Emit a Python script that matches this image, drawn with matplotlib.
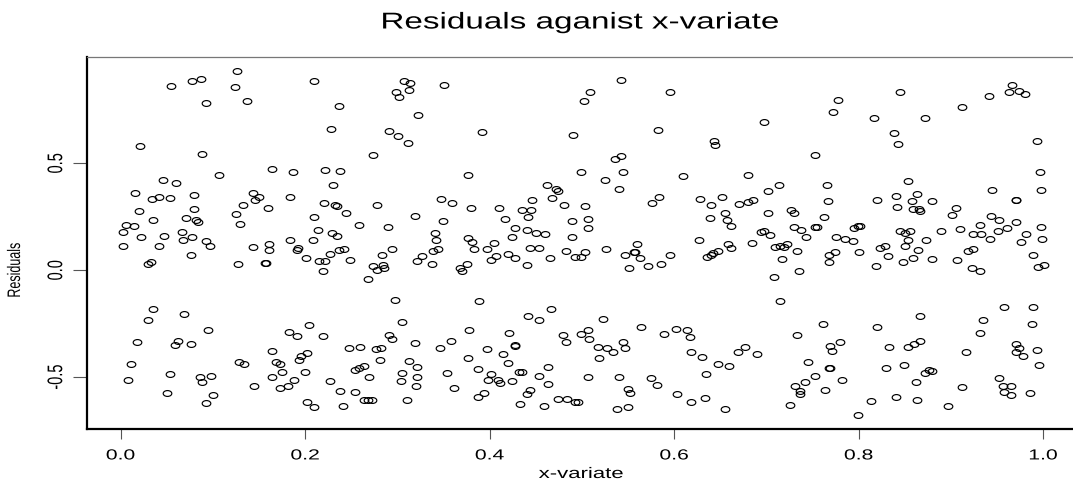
import matplotlib
matplotlib.use("Agg")
import matplotlib.pyplot as plt
from matplotlib.path import Path
from matplotlib.patheffects import AbstractPathEffect
from matplotlib.transforms import Affine2D
import numpy as np

plt.rcParams['font.family'] = ['Liberation Sans', 'DejaVu Sans']

# ---- data: (x-variate, residual), strip by strip ----
x_s1 = [0.055,0.077,0.087,0.093,0.021,0.088,0.046,0.060,0.016,0.034,0.042,0.053,0.080,0.020,0.080,0.035,0.071,0.082,0.084,0.006,0.015,0.003,0.066,0.022,0.047,0.068,0.077,0.003,0.042,0.092,0.097,0.076,0.030,0.033,
        0.035,0.030,0.069,0.095,0.018,0.062,0.059,0.076,0.011,0.008,0.053,0.086,0.088,0.098,0.050,0.100,0.093]
r_s1 = [0.861,0.886,0.896,0.783,0.581,0.545,0.421,0.408,0.361,0.332,0.344,0.338,0.350,0.277,0.287,0.235,0.243,0.235,0.224,0.210,0.206,0.179,0.179,0.154,0.160,0.143,0.153,0.114,0.114,0.137,0.114,0.073,0.028,0.040,
        -0.182,-0.234,-0.204,-0.280,-0.338,-0.332,-0.352,-0.347,-0.441,-0.516,-0.486,-0.498,-0.522,-0.494,-0.573,-0.586,-0.623]

x_s2 = [0.126,0.124,0.137,0.210,0.228,0.107,0.164,0.187,0.221,0.230,0.143,0.150,0.146,0.133,0.160,0.184,0.220,0.232,0.125,0.129,0.210,0.214,0.229,0.143,0.161,0.161,0.184,0.191,0.192,0.209,0.201,0.215,0.221,0.219,0.227,0.127,0.157,0.158,
        0.204,0.183,0.191,0.219,0.164,0.128,0.134,0.168,0.173,0.193,0.195,0.202,0.175,0.200,0.164,0.188,0.145,0.181,0.173,0.227,0.202,0.210]
r_s2 = [0.933,0.857,0.790,0.885,0.659,0.447,0.475,0.461,0.470,0.397,0.360,0.340,0.330,0.304,0.290,0.343,0.316,0.304,0.262,0.217,0.248,0.190,0.174,0.107,0.123,0.093,0.139,0.095,0.104,0.140,0.059,0.044,0.044,-0.005,0.075,0.028,0.034,0.034,
        -0.257,-0.290,-0.308,-0.308,-0.379,-0.430,-0.438,-0.430,-0.441,-0.421,-0.402,-0.389,-0.475,-0.478,-0.500,-0.514,-0.540,-0.540,-0.550,-0.517,-0.618,-0.639]

x_s3 = [0.307,0.314,0.313,0.298,0.302,0.351,0.237,0.322,0.291,0.301,0.311,0.274,0.238,0.234,0.244,0.278,0.347,0.359,0.319,0.258,0.290,0.349,0.341,0.342,0.235,0.237,0.242,0.249,0.283,0.294,0.274,0.278,0.284,0.286,0.268,0.321,0.327,0.337,0.339,0.344,
        0.297,0.305,0.291,0.294,0.319,0.346,0.358,0.248,0.259,0.277,0.282,0.281,0.313,0.321,0.254,0.258,0.264,0.269,0.305,0.304,0.321,0.320,0.354,0.361,0.238,0.254,0.264,0.268,0.273,0.310,0.241]
r_s3 = [0.886,0.874,0.844,0.832,0.808,0.864,0.768,0.724,0.651,0.626,0.593,0.537,0.463,0.301,0.269,0.304,0.335,0.315,0.251,0.210,0.202,0.232,0.176,0.140,0.162,0.093,0.097,0.048,0.073,0.097,0.019,0.000,0.026,0.011,-0.042,0.042,0.067,0.031,0.090,0.097,
        -0.140,-0.241,-0.301,-0.324,-0.340,-0.366,-0.330,-0.366,-0.358,-0.369,-0.364,-0.421,-0.424,-0.452,-0.466,-0.460,-0.447,-0.500,-0.483,-0.517,-0.502,-0.544,-0.483,-0.550,-0.564,-0.572,-0.606,-0.606,-0.606,-0.607,-0.637]

x_s4 = [0.392,0.490,0.376,0.462,0.472,0.474,0.468,0.446,0.481,0.380,0.410,0.435,0.445,0.442,0.417,0.489,0.427,0.441,0.450,0.460,0.424,0.489,0.376,0.381,0.405,0.383,0.397,0.444,0.453,0.483,0.492,0.407,0.402,0.420,0.428,0.440,0.465,0.375,0.368,0.370,
        0.388,0.466,0.442,0.454,0.378,0.421,0.480,0.483,0.427,0.428,0.397,0.414,0.377,0.420,0.387,0.463,0.401,0.432,0.435,0.398,0.409,0.411,0.424,0.453,0.463,0.444,0.440,0.394,0.387,0.433,0.459,0.474,0.484,0.492]
r_s4 = [0.645,0.634,0.447,0.397,0.380,0.371,0.338,0.330,0.304,0.293,0.293,0.280,0.280,0.249,0.241,0.229,0.198,0.188,0.173,0.167,0.156,0.156,0.151,0.132,0.125,0.097,0.101,0.104,0.104,0.089,0.062,0.067,0.047,0.076,0.055,0.026,0.059,0.028,0.011,-0.006,
        -0.145,-0.182,-0.215,-0.232,-0.280,-0.296,-0.301,-0.335,-0.350,-0.354,-0.369,-0.393,-0.410,-0.436,-0.463,-0.455,-0.488,-0.477,-0.478,-0.514,-0.514,-0.526,-0.519,-0.497,-0.534,-0.559,-0.581,-0.576,-0.592,-0.628,-0.634,-0.604,-0.603,-0.615]

x_s5 = [0.542,0.509,0.502,0.595,0.583,0.542,0.536,0.545,0.499,0.525,0.540,0.610,0.584,0.576,0.503,0.507,0.507,0.503,0.499,0.526,0.560,0.557,0.558,0.547,0.563,0.551,0.572,0.586,0.595,
        0.523,0.564,0.602,0.614,0.617,0.589,0.499,0.507,0.508,0.517,0.527,0.534,0.545,0.547,0.519,0.618,0.507,0.540,0.575,0.581,0.550,0.552,0.603,0.618,0.496,0.538,0.550]
r_s5 = [0.888,0.833,0.790,0.833,0.656,0.534,0.519,0.461,0.458,0.421,0.379,0.442,0.344,0.313,0.299,0.238,0.195,0.083,0.062,0.101,0.123,0.086,0.083,0.070,0.055,0.008,0.019,0.031,0.070,
        -0.229,-0.268,-0.277,-0.280,-0.315,-0.299,-0.299,-0.280,-0.321,-0.358,-0.366,-0.383,-0.335,-0.366,-0.410,-0.383,-0.502,-0.502,-0.503,-0.537,-0.558,-0.576,-0.578,-0.617,-0.617,-0.650,-0.640]

x_s6 = [0.697,0.643,0.644,0.753,0.680,0.714,0.702,0.628,0.640,0.652,0.670,0.680,0.685,0.727,0.730,0.702,0.639,0.655,0.657,0.662,0.730,0.738,0.743,0.753,0.694,0.697,0.704,0.627,0.658,0.662,0.684,0.636,0.640,0.642,0.648,0.709,0.715,0.719,0.722,0.733,0.717,0.735,0.708,0.715,
        0.733,0.630,0.669,0.677,0.690,0.648,0.659,0.635,0.745,0.753,0.742,0.731,0.736,0.736,0.726,0.633,0.655]
r_s6 = [0.692,0.603,0.584,0.540,0.444,0.397,0.369,0.335,0.307,0.340,0.308,0.319,0.330,0.283,0.269,0.268,0.246,0.265,0.235,0.207,0.201,0.187,0.156,0.202,0.179,0.184,0.165,0.139,0.123,0.103,0.129,0.061,0.073,0.081,0.090,0.106,0.114,0.109,0.123,0.090,0.051,-0.005,-0.031,-0.145,
        -0.304,-0.405,-0.382,-0.361,-0.393,-0.439,-0.450,-0.486,-0.431,-0.495,-0.522,-0.542,-0.565,-0.579,-0.631,-0.600,-0.651]

x_s7 = [0.845,0.778,0.772,0.817,0.872,0.838,0.843,0.766,0.854,0.767,0.820,0.840,0.863,0.858,0.880,0.842,0.859,0.865,0.867,0.762,0.755,0.795,0.799,0.801,0.775,0.785,0.794,0.845,0.850,0.856,0.853,0.873,0.768,0.774,0.768,0.800,0.823,0.829,0.832,0.850,0.864,0.859,0.848,0.819,0.879,
        0.867,0.761,0.820,0.780,0.769,0.771,0.833,0.853,0.860,0.866,0.768,0.769,0.782,0.830,0.849,0.862,0.872,0.876,0.879,0.763,0.813,0.841,0.863,0.799]
r_s7 = [0.833,0.794,0.740,0.713,0.712,0.643,0.589,0.400,0.416,0.322,0.327,0.349,0.355,0.324,0.324,0.294,0.287,0.287,0.277,0.248,0.204,0.199,0.206,0.206,0.157,0.146,0.136,0.184,0.174,0.184,0.140,0.140,0.073,0.084,0.036,0.086,0.104,0.112,0.065,0.114,0.093,0.056,0.037,0.019,0.053,
        -0.213,-0.254,-0.265,-0.335,-0.355,-0.379,-0.358,-0.361,-0.344,-0.330,-0.460,-0.460,-0.516,-0.456,-0.444,-0.525,-0.481,-0.467,-0.470,-0.561,-0.612,-0.592,-0.609,-0.679]

x_s8 = [0.966,0.963,0.974,0.980,0.941,0.912,0.993,0.997,0.944,0.998,0.971,0.971,0.906,0.901,0.943,0.952,0.931,0.889,0.910,0.924,0.933,0.942,0.951,0.961,0.971,0.981,0.998,0.999,0.976,0.918,0.924,0.907,0.923,0.932,0.989,0.994,1.001,
        0.957,0.989,0.935,0.932,0.988,0.916,0.971,0.974,0.971,0.978,0.993,0.995,0.952,0.912,0.956,0.965,0.957,0.965,0.986,0.897]
r_s8 = [0.864,0.833,0.840,0.824,0.815,0.763,0.603,0.458,0.377,0.374,0.330,0.327,0.291,0.260,0.252,0.234,0.213,0.185,0.192,0.167,0.168,0.146,0.182,0.195,0.226,0.167,0.204,0.146,0.132,0.089,0.098,0.047,0.011,-0.003,0.070,0.014,0.023,
        -0.171,-0.174,-0.235,-0.293,-0.254,-0.385,-0.347,-0.366,-0.383,-0.400,-0.374,-0.442,-0.505,-0.545,-0.542,-0.542,-0.569,-0.586,-0.576,-0.637]

x_ticks = [0.0, 0.2, 0.4, 0.6, 0.8, 1.0]
x_tick_labels = ["0.0", "0.2", "0.4", "0.6", "0.8", "1.0"]
y_ticks = [-0.5, 0.0, 0.5]
y_tick_labels = ["-0.5", "0.0", "0.5"]
title = "Residuals aganist x-variate"
xlabel = "x-variate"
ylabel = "Residuals"

x_all = np.concatenate([x_s1, x_s2, x_s3, x_s4, x_s5, x_s6, x_s7, x_s8])
r_all = np.concatenate([r_s1, r_s2, r_s3, r_s4, r_s5, r_s6, r_s7, r_s8])


# The reference image is stretched horizontally (~1.45x); mimic it for text glyphs.
class Stretch(AbstractPathEffect):
    def __init__(self, sx=1.0, sy=1.0):
        super().__init__()
        self.sx, self.sy = sx, sy

    def draw_path(self, renderer, gc, tpath, affine, rgbFace=None):
        ext = tpath.get_extents()
        cx = (ext.x0 + ext.x1) / 2.0
        cy = (ext.y0 + ext.y1) / 2.0
        pre = Affine2D().translate(-cx, -cy).scale(self.sx, self.sy).translate(cx, cy)
        renderer.draw_path(gc, tpath, pre + affine, rgbFace)


S = 1.45
h_stretch = [Stretch(sx=S)]
v_stretch = [Stretch(sy=S)]

# ---- figure ----
W, H = 1073, 487
fig = plt.figure(figsize=(W / 100, H / 100), dpi=100)
ax = fig.add_axes([86.5 / W, 58 / H, (1081 - 86.5) / W, 372 / H])

circ = Path.unit_circle()
ellipse = Path(circ.vertices * np.array([1.0, 0.68]), circ.codes)

ax.plot(x_all, r_all, linestyle="none", marker=ellipse, markersize=6.2,
        markerfacecolor="none", markeredgecolor="black", markeredgewidth=0.85)

ax.set_xlim(-0.037, 1.041)
ax.set_ylim(-0.743, 0.997)

ax.set_xticks(x_ticks)
ax.set_xticklabels(x_tick_labels, fontsize=10.5)
ax.set_yticks(y_ticks)
ax.set_yticklabels(y_tick_labels, fontsize=10.5, rotation=90, va="center")
ax.tick_params(axis="x", direction="out", length=7, width=0.8, color="#555555", pad=7)
ax.tick_params(axis="y", direction="out", length=10, width=0.8, color="#555555", pad=7)

for t in ax.xaxis.get_major_ticks():
    t.label1.set_path_effects(h_stretch)
for t in ax.yaxis.get_major_ticks():
    t.label1.set_path_effects(v_stretch)

for side in ("left", "bottom"):
    ax.spines[side].set_color("black")
    ax.spines[side].set_linewidth(1.6)
ax.spines["top"].set_color("#777777")
ax.spines["top"].set_linewidth(0.9)
ax.spines["right"].set_color("black")
ax.spines["right"].set_linewidth(1.6)

fig.text(580 / W, 1 - 22 / H, title, ha="center", va="center", fontsize=16.5,
         path_effects=h_stretch)
fig.text(581 / W, 1 - 474 / H, xlabel, ha="center", va="center", fontsize=11,
         path_effects=h_stretch)
fig.text(15 / W, 1 - 270 / H, ylabel, ha="center", va="center", fontsize=9,
         rotation=90, path_effects=v_stretch)

fig.savefig("out.png", dpi=100)
